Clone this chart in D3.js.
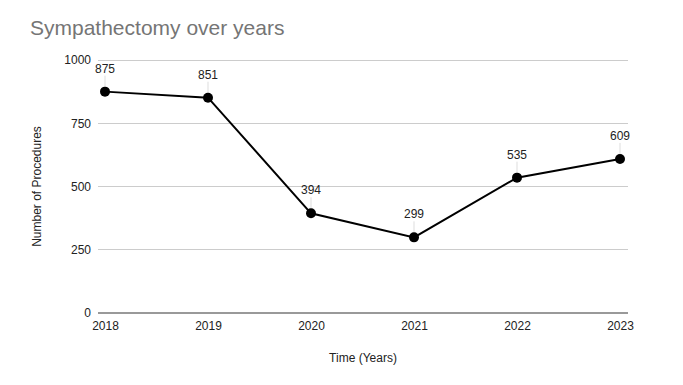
<!DOCTYPE html>
<html><head><meta charset="utf-8">
<script src="https://cdn.jsdelivr.net/npm/d3@7"></script>
<style>body{margin:0;background:#fff}svg{display:block;font-family:"Liberation Sans",Arial,sans-serif}</style>
</head><body>
<svg id="c" width="683" height="385"></svg>
<script>
const years = ["2018","2019","2020","2021","2022","2023"];
const procedures = [875, 851, 394, 299, 535, 609];
const yTicks = [0, 250, 500, 750, 1000];
const title = "Sympathectomy over years";
const xTitle = "Time (Years)";
const yTitle = "Number of Procedures";

(function () {
const svg = d3.select("#c");
const pLeft = 98, pRight = 628, pTop = 60, pBottom = 313;
const x = d3.scalePoint().domain(years).range([105, 620]);
const y = d3.scaleLinear().domain([0, 1000]).range([pBottom, pTop]);
const FF = "Liberation Sans, Arial, sans-serif";

svg.append("text").attr("x", 30).attr("y", 35).attr("font-size", 21).attr("fill", "#757575").text(title);

// gridlines
svg.append("g").selectAll("line").data(yTicks.filter(d => d > 0)).join("line")
  .attr("x1", pLeft).attr("x2", pRight).attr("y1", d => y(d)).attr("y2", d => y(d))
  .attr("stroke", "#cccccc").attr("stroke-width", 1).attr("shape-rendering", "crispEdges");

// y axis labels
const ya = svg.append("g").attr("transform", `translate(${pLeft},0)`)
  .call(d3.axisLeft(y).tickValues(yTicks).tickFormat(d3.format("d")).tickSize(0).tickPadding(7));
ya.select(".domain").remove();
ya.selectAll("text").attr("font-size", 12).attr("fill", "#222").attr("font-family", FF);

// baseline
svg.append("line").attr("x1", pLeft).attr("x2", pRight).attr("y1", pBottom).attr("y2", pBottom)
  .attr("stroke", "#777").attr("stroke-width", 1.3);

// x axis labels
const xa = svg.append("g").attr("transform", `translate(0,${pBottom})`)
  .call(d3.axisBottom(x).tickSize(0).tickPadding(8));
xa.select(".domain").remove();
xa.selectAll("text").attr("font-size", 12).attr("fill", "#222").attr("font-family", FF);

// axis titles
svg.append("text").attr("x", 363).attr("y", 362).attr("text-anchor", "middle").attr("font-size", 12).attr("fill", "#222").text(xTitle);
svg.append("text").attr("transform", `translate(41,${(pTop + pBottom) / 2}) rotate(-90)`).attr("text-anchor", "middle").attr("font-size", 12).attr("fill", "#222").text(yTitle);

const data = years.map((yr, i) => ({yr, v: procedures[i]}));

// leader lines
svg.append("g").selectAll("line").data(data).join("line")
  .attr("x1", d => x(d.yr)).attr("x2", d => x(d.yr))
  .attr("y1", d => y(d.v) - 16).attr("y2", d => y(d.v))
  .attr("stroke", "#dddddd").attr("stroke-width", 1);

// line
svg.append("path").datum(data)
  .attr("d", d3.line().x(d => x(d.yr)).y(d => y(d.v)))
  .attr("fill", "none").attr("stroke", "#000").attr("stroke-width", 2);

svg.append("g").selectAll("circle").data(data).join("circle")
  .attr("cx", d => x(d.yr)).attr("cy", d => y(d.v)).attr("r", 5).attr("fill", "#000");

svg.append("g").selectAll("text").data(data).join("text")
  .attr("x", d => x(d.yr)).attr("y", d => y(d.v) - 19)
  .attr("text-anchor", "middle").attr("font-size", 12).attr("fill", "#222")
  .text(d => d.v);
})();
</script>
</body></html>
